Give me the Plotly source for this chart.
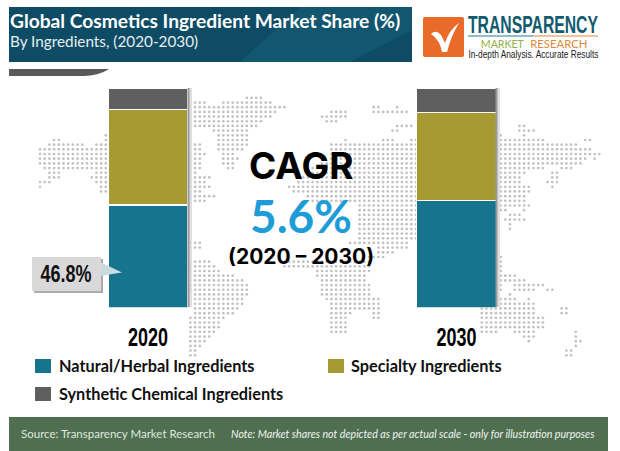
import math
import plotly.graph_objects as go

YEARS = ["2020", "2030"]
NATURAL = [46.8, 48.7]
SPECIALTY = [43.6, 40.2]
SYNTHETIC = [9.6, 11.1]
COLORS = {"Natural/Herbal Ingredients": "#17748f", "Specialty Ingredients": "#a69a34",
          "Synthetic Chemical Ingredients": "#5f5f5f"}

# decorative dotted world map: (row position, runs of column extents)
MAP_RUNS = [
 (97,[(245,262)]),(102,[(193,205),(223,272)]),
 (107,[(193,285),(370,380),(393,398)]),(111,[(193,277),(330,347),(372,407)]),
 (116,[(193,272),(322,347)]),(121,[(193,263),(325,340)]),
 (126,[(193,257),(397,413),(517,528)]),(130,[(212,250),(390,400),(518,538)]),
 (135,[(104,107),(217,247),(393,397),(497,503),(523,528)]),
 (140,[(53,60),(104,107),(217,247),(343,350),(383,393),(407,417),(497,543),(585,590)]),
 (145,[(48,83),(95,107),(193,203),(217,247),(330,417),(497,580)]),
 (149,[(38,107),(190,203),(217,243),(327,418),(497,590)]),
 (154,[(38,107),(190,207),(220,237),(327,418),(497,600)]),
 (159,[(38,107),(190,200),(220,240),(327,418),(497,587),(593,597)]),
 (164,[(40,107),(190,200),(223,237),(320,418),(497,583)]),
 (168,[(43,107),(190,200),(227,233),(310,418),(497,543),(560,572)]),
 (173,[(48,63),(95,107),(190,198),(305,418),(497,525),(552,557)]),
 (178,[(48,60),(90,107),(190,210),(300,418),(497,520),(552,558)]),
 (183,[(38,50),(95,107),(190,207),(297,418),(497,523),(547,558)]),
 (187,[(38,40),(100,107),(190,213),(287,418),(497,530),(550,553)]),
 (192,[(100,107),(190,200),(290,418),(497,530)]),
 (197,[(190,218),(307,418),(497,528)]),(201,[(193,205),(310,418),(497,528)]),
 (206,[(357,418),(497,533)]),(211,[(357,418),(497,507),(522,525)]),
 (215,[(357,418),(497,500),(507,523)]),(220,[(357,418),(503,527)]),
 (225,[(357,418),(508,510)]),(229,[(357,418),(508,510)]),
 (234,[(357,418),(503,505)]),(239,[(357,418)]),
 (243,[(190,200),(347,407)]),(248,[(190,200),(377,407)]),(253,[(377,393)]),
 (258,[(367,387),(498,502)]),(262,[(190,210),(283,373),(498,502)]),
 (267,[(190,215),(283,370),(498,502)]),(271,[(190,223),(317,370),(498,502)]),
 (276,[(190,233),(317,367),(497,517)]),(280,[(190,245),(320,367),(497,525)]),
 (285,[(190,248),(320,370),(497,502),(513,543)]),
 (290,[(190,248),(320,373),(497,502),(513,535),(547,553)]),
 (294,[(193,247),(320,370),(497,500),(508,510),(536,538)]),
 (299,[(193,243),(323,383),(497,517),(528,533)]),
 (304,[(193,243),(327,380),(497,535)]),
 (308,[(193,240),(327,380),(480,535),(560,567)]),
 (313,[(193,237),(327,353),(370,380),(480,537),(560,567)]),
 (318,[(190,227),(330,350),(370,380),(480,543)]),
 (322,[(190,223),(330,350),(480,543)]),(327,[(190,223),(330,347),(480,543)]),
 (332,[(190,217),(330,347),(480,497),(513,538),(575,577)]),
 (336,[(187,210),(523,538),(575,580)]),(341,[(187,207),(528,533),(575,585)]),
 (346,[(187,203),(531,533),(575,580)]),(351,[(187,197),(565,575)]),
 (355,[(187,197),(565,572)]),
]

map_x, map_y = [], []
for row, runs in MAP_RUNS:
    yy = 88.5 + 4.68 * round((row - 88.5) / 4.68)
    for a, b in runs:
        for c in range(math.ceil((a - 2.4) / 4.7), math.floor((b - 2.4) / 4.7) + 1):
            map_x.append(2.4 + 4.7 * c)
            map_y.append(yy)

fig = go.Figure()
fig.add_trace(go.Scatter(x=map_x, y=map_y, mode="markers", hoverinfo="skip", showlegend=False,
                         marker=dict(size=2.7, color="#c2c2c2", symbol="circle"), xaxis="x", yaxis="y"))
for name, vals in [("Natural/Herbal Ingredients", NATURAL), ("Specialty Ingredients", SPECIALTY),
                   ("Synthetic Chemical Ingredients", SYNTHETIC)]:
    fig.add_trace(go.Bar(x=YEARS, y=vals, name=name, width=0.258, showlegend=False,
                         marker=dict(color=COLORS[name], line=dict(color="#ffffff", width=1.2)),
                         xaxis="x2", yaxis="y2"))

shapes = []
def rect(x0, y0, x1, y1, color, layer="above"):
    shapes.append(dict(type="rect", x0=x0, y0=y0, x1=x1, y1=y1, xref="x", yref="y",
                       fillcolor=color, line_width=0, layer=layer))
def path(d, color, line=None, lw=0):
    shapes.append(dict(type="path", path=d, xref="x", yref="y", fillcolor=color,
                       line=dict(color=line or color, width=lw), layer="above"))

# header banner
rect(9, 7, 412, 62, "#0e4c65")
path("M 240 62 L 300 7 L 412 7 L 412 30 L 350 62 Z", "#125670")
path("M 9 69 L 109 69 Q 100 75 85 76 L 9 76 Z", "#5a5a5a")
# logo
path("M 425 17 L 462 17 Q 464 17 464 19 L 464 55 Q 464 57 462 57 L 425 57 Q 423 57 423 55 L 423 19 Q 423 17 425 17 Z", "#ea6a2a")
path("M 431 34 Q 436 29 441 35 L 445 43 Q 449 30 459 23 Q 451 36 447 52 L 442 52 Q 440 40 431 34 Z", "#ffffff")
rect(468, 35.5, 533, 36.5, "#1f7f8f")
rect(533, 35.5, 598, 36.5, "#e08a3c")
# bar side shadows
for bx in (187.5, 495.5):
    rect(bx, 88, bx + 1.5, 307, "#9a9a9a")
    rect(bx + 1.5, 88, bx + 3, 307, "#bdbdbd")
    rect(bx + 3, 88, bx + 4.5, 307, "#e0e0e0")
# callout
rect(34, 259, 103, 293, "#ababab")
path("M 100 262 L 122 272.5 L 100 276 Z", "#c9dbe0")
rect(32, 257, 101, 291, "#d9d9d9")
# legend swatches
rect(35, 359, 51, 373, COLORS["Natural/Herbal Ingredients"])
rect(328, 359, 344, 373, COLORS["Specialty Ingredients"])
rect(35, 387, 51, 401, COLORS["Synthetic Chemical Ingredients"])
# footer
rect(9, 417, 608, 451, "#4f6f50")

anns = []
def text(x, y, s, size, color="#000000", family="Lato", anchor="left", bold=False, italic=False):
    anns.append(dict(x=x, y=y, xref="x", yref="y", text=s, showarrow=False, xanchor=anchor, yanchor="middle",
                     font=dict(size=size, color=color, family=family, weight=700 if bold else 400,
                               style="italic" if italic else "normal")))

text(8, 20, "Global Cosmetics Ingredient Market Share (%)", 19.2, "#ffffff", bold=True)
text(8, 41, "By Ingredients, (2020-2030)", 15.3, "#e6eef2")
text(533, 25, "TRANSPARENCY", 23, "#125a70", "Liberation Sans", "center", bold=True)
text(502.5, 43, "MARKET", 11, "#93b04a", "Lato", "center")
text(558.5, 43, "RESEARCH", 11, "#d98a3a", "Lato", "center")
text(533, 54.5, "In-depth Analysis. Accurate Results", 10, "#222222", "Liberation Sans", "center")
text(301, 165, "CAGR", 37, "#000000", "Inter", "center", bold=True)
text(301, 215, "5.6%", 46, "#1e9cd7", "Lato", "center", bold=True)
text(301, 256, "(2020 – 2030)", 21, "#000000", "Inter", "center", bold=True)
text(65.5, 273, "46.8%", 24, "#111111", "Liberation Sans", "center", bold=True)
text(57, 365, "Natural/Herbal Ingredients", 16.3, "#111111", "Lato", bold=True)
text(349, 365, "Specialty Ingredients", 16.3, "#111111", "Lato", bold=True)
text(57, 393, "Synthetic Chemical Ingredients", 16.3, "#111111", "Lato", bold=True)
text(19, 433, "Source: Transparency Market Research", 11.5, "#dfe8df")
text(229, 433, "Note: Market shares not depicted as per actual scale - only for illustration purposes", 10.65,
     "#f0f4f0", italic=True)

fig.update_layout(
    width=620, height=451, margin=dict(l=0, r=0, t=0, b=0), paper_bgcolor="#ffffff", plot_bgcolor="rgba(0,0,0,0)",
    barmode="stack", showlegend=False, shapes=shapes, annotations=anns,
    xaxis=dict(range=[0, 620], domain=[0, 1], visible=False),
    yaxis=dict(range=[451, 0], domain=[0, 1], visible=False),
    xaxis2=dict(type="category", range=[-0.48, 1.53], domain=[0, 1], anchor="y2", showgrid=False, showline=False,
                zeroline=False, ticks="outside", ticklen=6, tickcolor="rgba(0,0,0,0)",
                tickfont=dict(size=26, family="Liberation Sans", color="#000000", weight=700)),
    yaxis2=dict(range=[0, 100], domain=[143.5 / 451, 1 - 88.5 / 451], anchor="x2", visible=False),
)

# squeeze the condensed labels to the widths they occupy in the reference
POST = """
document.documentElement.style.margin='0';document.body.style.margin='0';document.body.style.overflow='hidden';
var w={'2020':40,'2030':40,'46.8%':51,'TRANSPARENCY':130,'MARKET':43,'RESEARCH':57,'In-depth Analysis. Accurate Results':130};
document.querySelectorAll('svg text').forEach(function(t){var k=t.textContent;if(w[k]){t.setAttribute('textLength',w[k]);t.setAttribute('lengthAdjust','spacingAndGlyphs');}});
"""
fig.write_html("out.html", post_script=POST, config={"displayModeBar": False})
